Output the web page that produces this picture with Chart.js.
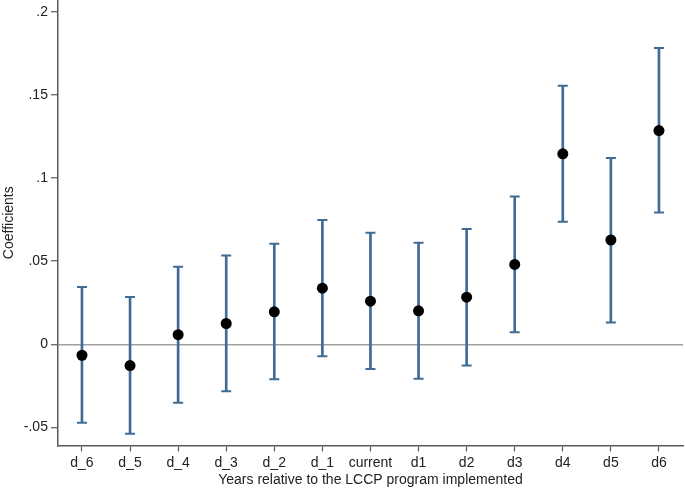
<!DOCTYPE html>
<html>
<head>
<meta charset="utf-8">
<script src="https://cdn.jsdelivr.net/npm/chart.js@4"></script>
<style>
  html, body { margin: 0; padding: 0; background: #fff; }
  #wrap { width: 685px; height: 489px; }
</style>
</head>
<body>
<div id="wrap"><canvas id="myChart" width="685" height="489"></canvas></div>
<script>
const labels = ['d_6', 'd_5', 'd_4', 'd_3', 'd_2', 'd_1', 'current', 'd1', 'd2', 'd3', 'd4', 'd5', 'd6']

const coef  = [-0.0066, -0.0128, 0.0058, 0.0125, 0.0195, 0.0337, 0.0259, 0.0201, 0.0283, 0.0480, 0.1145, 0.0627, 0.1285]
const upper = [0.0345, 0.0285, 0.0466, 0.0534, 0.0604, 0.0747, 0.0671, 0.0610, 0.0693, 0.0889, 0.1554, 0.1120, 0.1781]
const lower = [-0.0472, -0.0538, -0.0351, -0.0283, -0.0211, -0.0072, -0.0149, -0.0207, -0.0127, 0.0072, 0.0737, 0.0131, 0.0793]

const yTicks = [-0.05, 0, 0.05, 0.1, 0.15, 0.2]

const barColor = '#3f6b95'
const axisColor = '#5a5a5a'
const fontFamily = '"Liberation Sans", Arial, sans-serif'

const ctx = document.getElementById('myChart').getContext('2d')

function fmt(v) {
  if (Math.abs(v) < 1e-9) return '0'
  let s = String(Math.round(v * 100) / 100)
  return s.replace('0.', '.')
}

const data = {
  labels: labels,
  datasets: [
    {
      type: 'line',
      label: 'coef',
      data: coef,
      showLine: false,
      pointRadius: 5.5,
      pointBackgroundColor: '#000',
      pointBorderWidth: 0,
      order: 0
    },
    {
      type: 'line',
      label: 'upper',
      data: upper,
      showLine: false,
      pointStyle: 'line',
      pointRadius: 5,
      pointBorderWidth: 2,
      pointBorderColor: barColor,
      order: 1
    },
    {
      type: 'line',
      label: 'lower',
      data: lower,
      showLine: false,
      pointStyle: 'line',
      pointRadius: 5,
      pointBorderWidth: 2,
      pointBorderColor: barColor,
      order: 1
    },
    {
      type: 'bar',
      label: 'ci',
      data: lower.map((l, i) => [l, upper[i]]),
      backgroundColor: barColor,
      borderWidth: 0,
      barThickness: 2,
      grouped: false,
      order: 2
    }
  ]
}

const config = {
  type: 'bar',
  data: data,
  options: {
    responsive: false,
    animation: false,
    layout: { autoPadding: false, padding: { top: 0, right: 2, left: 1, bottom: 0 } },
    plugins: {
      legend: { display: false },
      tooltip: { enabled: false }
    },
    scales: {
      x: {
        offset: true,
        afterFit: (scale) => { scale.paddingRight = 0; scale.paddingLeft = 0 },
        grid: {
          offset: false,
          drawOnChartArea: false,
          drawTicks: true,
          tickLength: 6,
          tickColor: axisColor,
          tickWidth: 1.2
        },
        border: { color: axisColor, width: 1.5 },
        ticks: {
          color: '#222',
          font: { family: fontFamily, size: 14 },
          padding: 3,
          maxRotation: 0,
          autoSkip: false
        },
        title: {
          display: true,
          text: 'Years relative to the LCCP program implemented',
          color: '#222',
          font: { family: fontFamily, size: 14 },
          padding: { top: -2, bottom: 0 }
        }
      },
      y: {
        min: -0.0608,
        max: 0.207,
        afterBuildTicks: (axis) => {
          axis.ticks = yTicks.map(v => ({ value: v }))
        },
        afterFit: (scale) => { scale.paddingTop = 0; scale.paddingBottom = 0 },
        grid: {
          color: (c) => (c.tick && Math.abs(c.tick.value) < 1e-9) ? '#a0a0a0' : 'rgba(0,0,0,0)',
          lineWidth: 1.5,
          drawTicks: true,
          tickLength: 7,
          tickColor: axisColor,
          tickWidth: 1.2
        },
        border: { color: axisColor, width: 1.5 },
        ticks: {
          color: '#222',
          font: { family: fontFamily, size: 14 },
          padding: 3,
          callback: (v) => fmt(v)
        },
        title: {
          display: true,
          text: 'Coefficients',
          color: '#222',
          font: { family: fontFamily, size: 14 },
          padding: { top: 0, bottom: 3 }
        }
      }
    }
  }
}

const myChart = new Chart(ctx, config)
</script>
</body>
</html>
